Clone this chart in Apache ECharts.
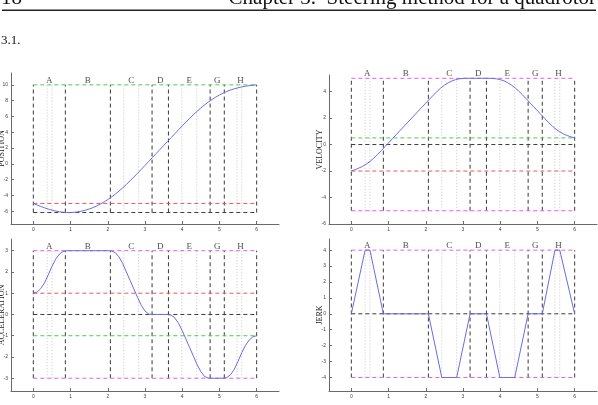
<!DOCTYPE html>
<html><head><meta charset="utf-8">
<script src="https://cdn.jsdelivr.net/npm/echarts@6/dist/echarts.min.js"></script>
<style>html,body{margin:0;padding:0;background:#fff;}#c{width:598px;height:405px;}</style>
</head><body><div id="c"></div>
<script>
// ---- data ----
const timeGrid = [0,0.1,0.2,0.3,0.4,0.5,0.6,0.7,0.8,0.9,1,1.1,1.2,1.3,1.4,1.5,1.6,1.7,1.8,1.9,2,2.1,2.2,2.3,2.4,2.5,2.6,2.7,2.8,2.9,3,3.1,3.2,3.3,3.4,3.5,3.6,3.7,3.8,3.9,4,4.1,4.2,4.3,4.4,4.5,4.6,4.7,4.8,4.9,5,5.1,5.2,5.3,5.4,5.5,5.6,5.7,5.8,5.9,6];
const position = [-5.00,-5.20,-5.38,-5.55,-5.71,-5.85,-5.96,-6.05,-6.11,-6.14,
  -6.15,-6.12,-6.06,-5.97,-5.85,-5.71,-5.53,-5.32,-5.08,-4.81,-4.52,
  -4.19,-3.83,-3.44,-3.03,-2.59,-2.14,-1.66,-1.18,-0.69,-0.19,
  0.31,0.81,1.31,1.81,2.31,2.81,3.31,3.81,4.31,4.80,
  5.29,5.76,6.22,6.66,7.07,7.46,7.82,8.15,8.45,8.72,
  8.96,9.17,9.35,9.50,9.63,9.74,9.83,9.90,9.96,10.00];
const velocity = [-2.00,-1.90,-1.78,-1.65,-1.48,-1.28,-1.03,-0.76,-0.47,-0.17,
  0.13,0.43,0.73,1.03,1.33,1.63,1.93,2.23,2.53,2.83,3.13,
  3.43,3.72,4.00,4.26,4.48,4.66,4.80,4.90,4.96,4.99,
  5.00,5.00,5.00,5.00,5.00,5.00,5.00,4.99,4.96,4.90,
  4.81,4.67,4.49,4.28,4.03,3.75,3.45,3.15,2.85,2.55,
  2.25,1.95,1.66,1.39,1.15,0.96,0.80,0.68,0.58,0.50];
const acceleration = [1.00,1.05,1.22,1.49,1.86,2.26,2.60,2.84,2.96,3.00,
  3,3,3,3,3,3,3,3,3,3,3,
  2.99,2.91,2.71,2.40,2.00,1.60,1.20,0.80,0.43,0.16,
  0.02,0,0,0,0,0,-0.03,-0.16,-0.41,-0.76,
  -1.16,-1.56,-1.96,-2.36,-2.69,-2.92,-2.99,-3,-3,-3,
  -3,-2.97,-2.83,-2.57,-2.20,-1.80,-1.45,-1.20,-1.05,-1.00];
const jerkTimes  = [0,0.37,0.5,0.86,2.07,2.43,2.83,3.19,3.63,3.99,4.39,4.75,5.13,5.47,5.6,6];
const jerkValues = [0,4,4,0,0,-4,-4,0,0,-4,-4,0,0,4,4,0];

const phaseBounds = [0,0.86,2.07,3.19,3.63,4.75,5.13,6];
const phaseNames  = ['A','B','C','D','E','G','H'];
const subBounds   = [0.37,0.5,2.43,2.83,3.99,4.39,5.47,5.6];

const xTicks    = [0,1,2,3,4,5,6];
const posTicks  = [-6,-4,-2,0,2,4,6,8,10];
const velTicks  = [-6,-4,-2,0,2,4];
const accTicks  = [-3,-2,-1,0,1,2,3];
const jerkTicks = [-4,-3,-2,-1,0,1,2,3,4];

// reference levels: [value, kind]
const posRefs  = [[10,'final'],[-5,'initial'],[-6.15,'zero']];
const velRefs  = [[5,'limit'],[-5,'limit'],[0.5,'final'],[0,'zero'],[-2,'initial']];
const accRefs  = [[3,'limit'],[-3,'limit'],[1,'initial'],[0,'zero'],[-1,'final']];
const jerkRefs = [[4,'limit'],[-4,'limit'],[0,'zero']];
const posSpan = [-6.15,10], velSpan = [-5,5], accSpan = [-3,3], jerkSpan = [-4,4];

// ---- styling ----
const BLUE = '#6c6ce4';
const refColor = {final:'#4fcc4f', initial:'#e85a5a', zero:'#3a3a3a', limit:'#e45ee4'};
const serif = 'Liberation Serif';

const grids = [
  {left:11, top:73, width:268, height:151, outerBoundsMode:'none'},
  {left:329, top:75, width:268, height:149, outerBoundsMode:'none'},
  {left:11, top:239, width:268, height:152, outerBoundsMode:'none'},
  {left:329, top:239, width:268, height:152, outerBoundsMode:'none'}
];
const yRanges = [[-7.6,11.5],[-6,5.25],[-3.6,3.55],[-4.85,4.7]];
const yTickSets = [posTicks, velTicks, accTicks, jerkTicks];
const yNames = ['POSITION','VELOCITY','ACCELERATION','JERK'];
const axisCol = '#6a6a6a';

const xAxes = grids.map((g,i)=>({
  type:'value', gridIndex:i, min:-0.6, max:6.6,
  axisLine:{show:true, onZero:false, lineStyle:{color:axisCol, width:1}},
  axisTick:{show:true, inside:true, length:3, customValues:xTicks, lineStyle:{color:axisCol}},
  axisLabel:{customValues:xTicks, fontSize:5, color:'#444', margin:3, fontFamily:'Liberation Sans'},
  splitLine:{show:false}
}));
const yAxes = grids.map((g,i)=>({
  type:'value', gridIndex:i, min:yRanges[i][0], max:yRanges[i][1],
  axisLine:{show:true, onZero:false, lineStyle:{color:axisCol, width:1}},
  axisTick:{show:true, inside:true, length:3, customValues:yTickSets[i], lineStyle:{color:axisCol}},
  axisLabel:{customValues:yTickSets[i], fontSize:5, color:'#444', margin:3, fontFamily:'Liberation Sans'},
  splitLine:{show:false},
  name:yNames[i], nameLocation:'middle', nameRotate:90, nameGap:5, nameMoveOverlap:false,
  nameTextStyle:{fontFamily:serif, fontSize:8, color:'#222'}
}));

function seg(gi, a, b, color, dash, z){
  return {type:'line', xAxisIndex:gi, yAxisIndex:gi, showSymbol:false, silent:true, z:z,
    animation:false, lineStyle:{color:color, width:1, type:dash}, itemStyle:{color:color},
    data:[a,b]};
}
function curveSeries(gi, xs, ys){
  return {type:'line', xAxisIndex:gi, yAxisIndex:gi, showSymbol:false, silent:true, z:10,
    animation:false, lineStyle:{color:BLUE, width:1}, itemStyle:{color:BLUE},
    data: xs.map((x,i)=>[x, ys[i]])};
}
function frameSeries(gi, refs, span){
  const out = [];
  subBounds.forEach(b=>out.push(seg(gi,[b,span[0]],[b,span[1]],'#c4c4c4',[1,2],2)));
  phaseBounds.forEach(b=>out.push(seg(gi,[b,span[0]],[b,span[1]],'#3a3a3a',[4,3],4)));
  refs.forEach(r=>out.push(seg(gi,[0,r[0]],[6,r[0]],refColor[r[1]],[4,3],r[1]==='zero'?4:5)));
  out.push({type:'scatter', xAxisIndex:gi, yAxisIndex:gi, symbolSize:0, silent:true, z:12,
    animation:false, clip:false,
    label:{show:true, position:'top', distance:0, formatter:'{b}', fontFamily:serif, fontSize:9, color:'#222'},
    data: phaseNames.map((n,k)=>({name:n, value:[(phaseBounds[k]+phaseBounds[k+1])/2, span[1]]}))});
  return out;
}

const series = [].concat(
  frameSeries(0, posRefs, posSpan), [curveSeries(0, timeGrid, position)],
  frameSeries(1, velRefs, velSpan), [curveSeries(1, timeGrid, velocity)],
  frameSeries(2, accRefs, accSpan), [curveSeries(2, timeGrid, acceleration)],
  frameSeries(3, jerkRefs, jerkSpan), [curveSeries(3, jerkTimes, jerkValues)]
);

const chart = echarts.init(document.getElementById('c'), null, {renderer:'canvas'});
chart.setOption({
  animation:false,
  backgroundColor:'#fff',
  grid:grids, xAxis:xAxes, yAxis:yAxes, series:series,
  graphic:[
    {type:'text', left:1, top:-12, style:{text:'18', font:'21px "Liberation Serif"', fill:'#111'}},
    {type:'text', right:2, top:-12, style:{text:'Chapter 3.  Steering method for a quadrotor', font:'21px "Liberation Serif"', fill:'#111'}},
    {type:'rect', left:2, top:9.5, shape:{width:594, height:1.4}, style:{fill:'#222'}},
    {type:'text', left:1, top:34, style:{text:'3.1.', font:'13px "Liberation Serif"', fill:'#111'}}
  ]
});
</script></body></html>
